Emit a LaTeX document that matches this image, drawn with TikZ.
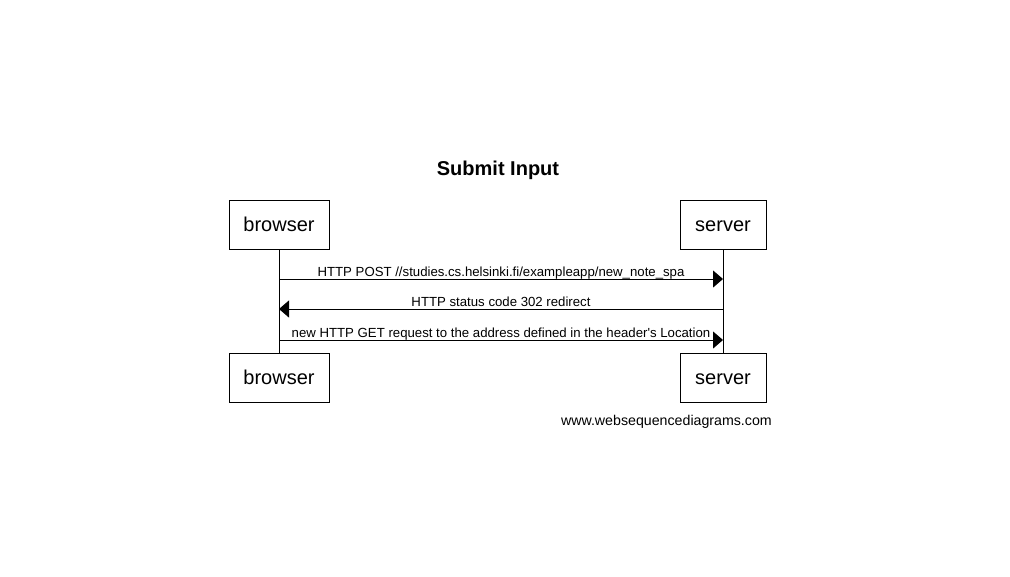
\documentclass[tikz,border=0pt]{standalone}
\usepackage{fontspec}
\setmainfont{Liberation Sans}
\usetikzlibrary{arrows.meta,positioning}

\begin{document}
\begin{tikzpicture}[x=1pt,y=-1pt,
actor/.style={rectangle, draw, line width=1pt, minimum width=#1, minimum height=49pt, inner sep=0pt, text height=14.5pt, text depth=0pt, font=\fontsize{20}{24}\selectfont},
msgline/.style={line width=1pt, -{Triangle[length=10pt,width=17pt]}},
msg/.style={font=\fontsize{13.2}{15}\selectfont, anchor=base, inner sep=0pt, yshift=3pt},
]
\useasboundingbox (0,0) rectangle (1010,576);
%Nodes
\node[font=\fontsize{20}{24}\selectfont\bfseries] (title) at (498,170) {Submit Input};
\node[actor=100pt] (browser) at (279,224.5) {browser};
\node[actor=86pt] (server) at (723,224.5) {server};
\node[actor=100pt] (browser2) at (279,377.5) {browser};
\node[actor=86pt] (server2) at (723,377.5) {server};
\node[anchor=east, inner sep=0pt, font=\fontsize{14.2}{16}\selectfont] (site) at (772,422) {www.websequencediagrams.com};
%Lifelines
\draw[line width=1pt] (browser) -- (browser2);
\draw[line width=1pt] (server) -- (server2);
\foreach \y/\n in {279/1,309/2,340/3} {
  \coordinate (b\n) at (279,\y);
  \coordinate (s\n) at (723,\y);
}
%Messages
\draw[msgline] (b1) -- node[msg]{HTTP POST //studies.cs.helsinki.fi/exampleapp/new\_note\_spa} (s1);
\draw[msgline] (s2) -- node[msg]{HTTP status code 302 redirect} (b2);
\draw[msgline] (b3) -- node[msg]{new HTTP GET request to the address defined in the header\textquotesingle s Location} (s3);
\end{tikzpicture}
\end{document}
